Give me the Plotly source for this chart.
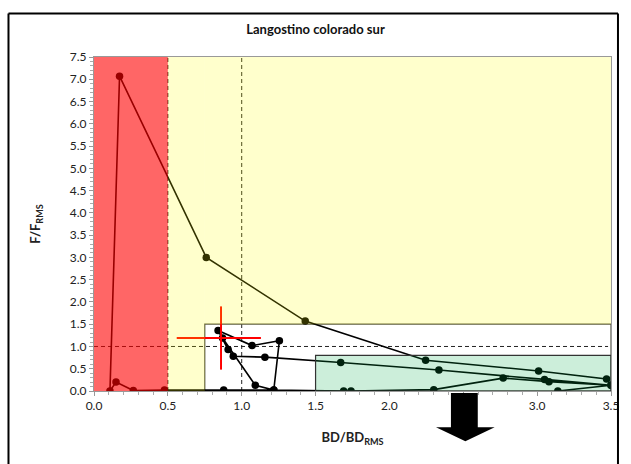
import plotly.graph_objects as go

# Trajectory data (BD/BDrms, F/Frms)
bd_ratio = [3.14, 3.50, 3.47, 3.01, 2.245, 1.43, 0.76, 0.173, 0.108, 0.149, 0.266, 0.477,
            0.878, 1.217, 1.69, 1.74, 2.30, 2.77, 3.08, 3.50, 3.05, 2.335, 1.67, 1.157,
            0.943, 0.908, 0.84, 1.07, 1.255, 1.217, 1.092, 0.87]
f_ratio = [0.00, 0.13, 0.27, 0.45, 0.69, 1.57, 3.00, 7.07, 0.00, 0.20, 0.01, 0.02,
           0.02, 0.02, 0.00, 0.00, 0.03, 0.29, 0.21, 0.13, 0.26, 0.47, 0.64, 0.76,
           0.78, 0.93, 1.36, 1.02, 1.13, 0.02, 0.13, 1.19]

# Uncertainty cross of last year
cross_bd = [0.56, 1.13]
cross_f = [0.48, 1.90]
last_bd = 0.86
last_f = 1.19

# Reference points / zones
bd_lim = 0.5
bd_rms = 1.0
f_rms = 1.0
box_bd = [0.75, 3.5]
box_f = 1.5
green_bd = [1.5, 3.5]
green_f = 0.8

x_ticks = [0.0, 0.5, 1.0, 1.5, 2.0, 2.5, 3.0, 3.5]
x_ticktext = ["0.0", "0.5", "1.0", "1.5", "2.0", "", "3.0", "3.5"]
y_ticks = [i * 0.5 for i in range(16)]

FONT = "Lato, 'Open Sans', sans-serif"

fig = go.Figure()

fig.add_trace(go.Scatter(
    x=bd_ratio, y=f_ratio, mode="lines+markers",
    line=dict(color="black", width=1.6),
    marker=dict(color="black", size=7.5),
    showlegend=False, cliponaxis=True))

fig.add_trace(go.Scatter(x=cross_bd, y=[last_f, last_f], mode="lines",
                         line=dict(color="#ff0000", width=2), showlegend=False))
fig.add_trace(go.Scatter(x=[last_bd, last_bd], y=cross_f, mode="lines",
                         line=dict(color="#ff0000", width=2), showlegend=False))

shapes = []
dash_style = dict(color="#222222", width=1, dash="4px,3px")
shapes.append(dict(type="line", xref="x", yref="y", x0=bd_lim, x1=bd_lim, y0=0, y1=7.5,
                   line=dash_style, layer="below"))
shapes.append(dict(type="line", xref="x", yref="y", x0=bd_rms, x1=bd_rms, y0=0, y1=7.5,
                   line=dash_style, layer="below"))
shapes.append(dict(type="line", xref="x", yref="y", x0=0, x1=3.48, y0=f_rms, y1=f_rms,
                   line=dash_style, layer="below"))
# white box outline
shapes.append(dict(type="rect", xref="x", yref="y", x0=box_bd[0], x1=box_bd[1], y0=0, y1=box_f,
                   line=dict(color="#555544", width=1.2), fillcolor="rgba(0,0,0,0)", layer="below"))
# overlays (semi-transparent, above traces)
shapes.append(dict(type="rect", xref="x", yref="y", x0=0, x1=bd_lim, y0=0, y1=7.5,
                   line=dict(width=0), fillcolor="rgba(255,0,0,0.6)", layer="above"))
shapes.append(dict(type="rect", xref="x", yref="y", x0=bd_lim, x1=box_bd[0], y0=0, y1=7.5,
                   line=dict(width=0), fillcolor="rgba(255,255,0,0.2)", layer="above"))
shapes.append(dict(type="rect", xref="x", yref="y", x0=box_bd[0], x1=3.5, y0=box_f, y1=7.5,
                   line=dict(width=0), fillcolor="rgba(255,255,0,0.2)", layer="above"))
shapes.append(dict(type="rect", xref="x", yref="y", x0=green_bd[0], x1=green_bd[1], y0=0, y1=green_f,
                   line=dict(color="#333333", width=1.2), fillcolor="rgba(0,170,68,0.2)", layer="above"))
# outer frame (top, left, right edges)
frame_line = dict(color="black", width=2)
shapes.append(dict(type="line", xref="paper", yref="paper", x0=-0.1654, x1=1.0135, y0=1.13, y1=1.13,
                   line=frame_line, layer="above"))
shapes.append(dict(type="line", xref="paper", yref="paper", x0=-0.1654, x1=-0.1654, y0=-0.3, y1=1.13,
                   line=frame_line, layer="above"))
shapes.append(dict(type="line", xref="paper", yref="paper", x0=1.0135, x1=1.0135, y0=-0.3, y1=1.13,
                   line=frame_line, layer="above"))
# down arrow
shapes.append(dict(type="path", xref="paper", yref="paper",
                   path="M 0.6904 -0.006 L 0.7423 -0.006 L 0.7423 -0.1087 L 0.775 -0.1087 "
                        "L 0.7183 -0.1506 L 0.6615 -0.1087 L 0.6904 -0.1087 Z",
                   fillcolor="black", line=dict(width=0), layer="above"))

fig.update_layout(
    width=631, height=464,
    margin=dict(l=94, r=17, t=57, b=73),
    paper_bgcolor="white", plot_bgcolor="white",
    font=dict(family=FONT, size=12, color="#222222"),
    title=dict(text="<b>Langostino colorado sur</b>", x=0.5, xanchor="center",
               y=0.937, yanchor="middle", font=dict(family=FONT, size=13, color="#111111")),
    shapes=shapes,
    showlegend=False,
)

fig.update_xaxes(range=[0, 3.5], tickvals=x_ticks, ticktext=x_ticktext,
                 showgrid=False, zeroline=False, showline=True, linecolor="#999999",
                 linewidth=1, mirror=True, ticks="outside", ticklen=4, tickcolor="#999999",
                 minor=dict(dtick=0.1, ticks="outside", ticklen=3, tickcolor="#aaaaaa"),
                 tickfont=dict(size=12),
                 title=dict(text="<b>BD/BD<sub>RMS</sub></b>", standoff=20,
                            font=dict(size=13)))
fig.update_yaxes(range=[0, 7.5], tickvals=y_ticks, tickformat=".1f",
                 showgrid=False, zeroline=False, showline=True, linecolor="#999999",
                 linewidth=1, mirror=True, ticks="outside", ticklen=4, tickcolor="#999999",
                 minor=dict(dtick=0.1, ticks="outside", ticklen=3, tickcolor="#aaaaaa"),
                 tickfont=dict(size=12),
                 title=dict(text="<b>F/F<sub>RMS</sub></b>", standoff=26,
                            font=dict(size=13)))

fig.write_html("out.html", config={"displayModeBar": False},
               post_script="document.body.style.margin='0px';")
